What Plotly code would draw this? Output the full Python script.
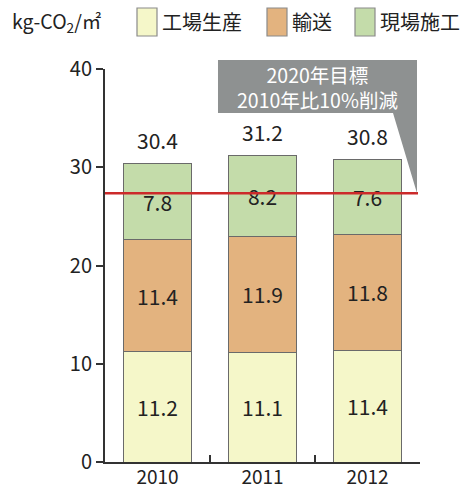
import plotly.graph_objects as go

years = ["2010", "2011", "2012"]
factory = [11.2, 11.1, 11.4]
transport = [11.4, 11.9, 11.8]
onsite = [7.8, 8.2, 7.6]
totals = [30.4, 31.2, 30.8]
series_names = ["工場生産", "輸送", "現場施工"]
target_reduction = 0.10
callout_lines = ["2020年目標", "2010年比10%削減"]

FONT = "Noto Sans CJK JP, Noto Sans, sans-serif"
xs = list(range(len(years)))
colors = ["#f5f7c9", "#e3b37f", "#c4dcaa"]
line_col = "#6a6a6a"

W, H = 463, 489
ML, MR, MT, MB = 105, 43, 69, 27
PW, PH = W - ML - MR, H - MT - MB


def px(x):
    return (x - ML) / PW


def py(y):
    return (H - MB - y) / PH


fig = go.Figure()
for name, vals, col in zip(series_names, [factory, transport, onsite], colors):
    fig.add_trace(go.Bar(
        x=xs, y=vals, name=name,
        marker=dict(color=col, line=dict(color=line_col, width=1)),
        text=[f"{v:.1f}" for v in vals], textposition="inside",
        insidetextanchor="middle", textangle=0,
        textfont=dict(size=21, color="#222", family=FONT),
        width=0.65, showlegend=False,
    ))

# totals above bars
for x, t in zip(xs, totals):
    fig.add_annotation(x=x, y=t, xref="x", yref="y", text=f"{t:.1f}", showarrow=False,
                       yanchor="middle", yshift=23,
                       font=dict(size=21, color="#222", family=FONT))

# invisible overlay trace for category-boundary ticks
fig.add_trace(go.Scatter(x=[0.5], y=[0], xaxis="x2", mode="markers",
                         marker=dict(opacity=0), showlegend=False, hoverinfo="skip"))

target = totals[0] * (1 - target_reduction)

fig.update_layout(
    width=W, height=H,
    margin=dict(l=ML, r=MR, t=MT, b=MB, autoexpand=False),
    paper_bgcolor="white", plot_bgcolor="white",
    barmode="stack",
    font=dict(family=FONT, color="#222"),
    xaxis=dict(range=[-0.5, 2.5], tickvals=xs, ticktext=years, ticks="",
               showline=True, linecolor="#333", linewidth=2, showgrid=False,
               zeroline=False, tickfont=dict(size=19, color="#222"), automargin=False,
               ticklabelstandoff=-3),
    xaxis2=dict(range=[-0.5, 2.5], overlaying="x", side="bottom",
                tickvals=[0.5, 1.5, 2.5], ticks="inside", ticklen=7, tickwidth=2,
                tickcolor="#333", showticklabels=False, showgrid=False, zeroline=False,
                automargin=False),
    yaxis=dict(range=[0, 40], tickvals=[0, 10, 20, 30, 40], ticks="outside",
               ticklen=7, tickwidth=2, tickcolor="#333", showline=True,
               linecolor="#333", linewidth=2, showgrid=False, zeroline=False,
               tickfont=dict(size=20, color="#222"), automargin=False),
    showlegend=False,
)

# manual legend built from series names / colours
sw_x = [137, 267, 355]
for name, col, sx in zip(series_names, colors, sw_x):
    fig.add_shape(type="rect", xref="paper", yref="paper",
                  x0=px(sx), x1=px(sx + 20), y0=py(36), y1=py(8),
                  fillcolor=col, line=dict(color="#8a8a8a", width=1.2))
    fig.add_annotation(xref="paper", yref="paper", x=px(sx + 23), y=py(22),
                       xanchor="left", yanchor="middle", showarrow=False, text=name,
                       font=dict(size=20, color="#222", family=FONT))

fig.add_annotation(xref="paper", yref="paper", x=px(10), y=py(22), xanchor="left",
                   yanchor="middle", showarrow=False, text="kg-CO<sub>2</sub>/㎡",
                   font=dict(size=19.5, color="#222", family=FONT))

# target line
fig.add_shape(type="line", xref="paper", yref="y", x0=0, x1=px(418), y0=target, y1=target,
              line=dict(color="#cc2a2a", width=2.5), layer="above")

# callout
y_t = target / 40
fig.add_shape(type="path", xref="paper", yref="paper",
              path=(f"M{px(218):.4f},{py(60):.4f} L{px(417):.4f},{py(60):.4f} "
                    f"L{px(417):.4f},{y_t:.4f} L{px(393):.4f},{py(113):.4f} "
                    f"L{px(218):.4f},{py(113):.4f} Z"),
              fillcolor="#8e9191", line=dict(width=0), layer="above")
fig.add_annotation(xref="paper", yref="paper", x=px(317.5), y=py(86.5), showarrow=False,
                   xanchor="center", yanchor="middle", text="<br>".join(callout_lines),
                   align="center", font=dict(size=19.5, color="white", family=FONT))

fig.write_html("out.html")
